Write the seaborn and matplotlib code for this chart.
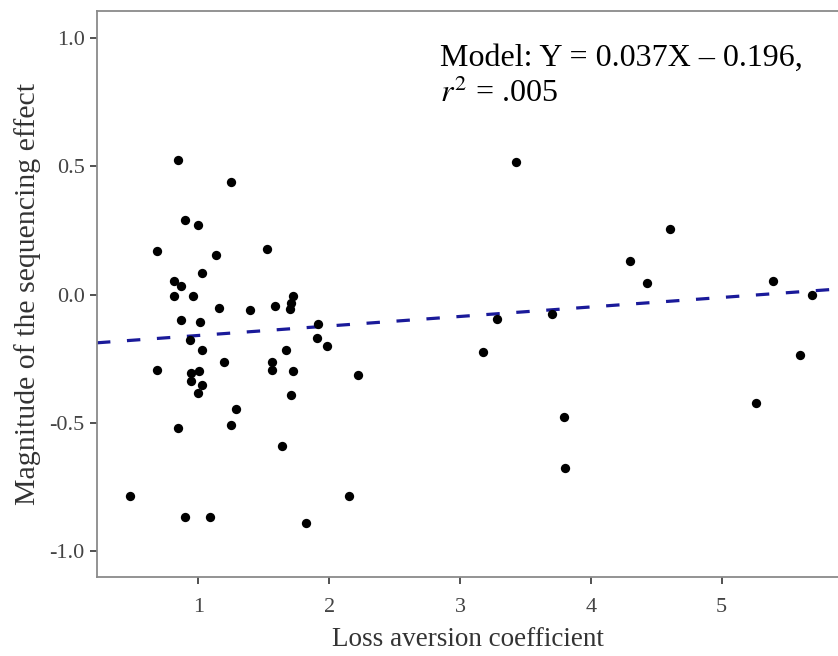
import numpy as np
import pandas as pd
import matplotlib.pyplot as plt
import seaborn as sns

# loss aversion coefficient (x) and magnitude of sequencing effect (y)
loss_aversion = [
    0.842, 1.250, 0.896, 1.000, 0.686, 1.523, 1.133, 1.026, 0.816, 0.870,
    0.816, 0.962, 1.722, 1.710, 1.700, 1.158, 1.396, 1.589, 0.870, 1.013,
    0.936, 1.918, 1.906, 1.987, 1.026, 1.669, 1.199, 1.564, 0.686, 1.564,
    1.722, 1.008, 0.944, 0.944, 1.026, 1.000, 2.220, 1.707, 1.291, 1.248,
    0.845, 1.643, 0.477, 2.153, 0.896, 1.092, 1.826,
    3.426, 4.604, 4.301, 4.433, 5.392, 5.693, 3.283, 3.701, 3.176,
    5.598, 3.793, 3.803, 5.262,
]
seq_effect = [
    0.523, 0.438, 0.292, 0.270, 0.171, 0.178, 0.154, 0.084, 0.054, 0.032,
    -0.007, -0.007, -0.004, -0.033, -0.055, -0.052, -0.061, -0.044, -0.100, -0.106,
    -0.178, -0.114, -0.169, -0.201, -0.214, -0.214, -0.261, -0.261, -0.292, -0.292,
    -0.298, -0.296, -0.305, -0.337, -0.353, -0.385, -0.315, -0.392, -0.445, -0.506,
    -0.521, -0.590, -0.783, -0.783, -0.868, -0.868, -0.890,
    0.515, 0.254, 0.131, 0.045, 0.054, 0.000, -0.093, -0.075, -0.222,
    -0.237, -0.475, -0.676, -0.421,
]

# fitted model from the figure annotation
SLOPE = 0.037
INTERCEPT = -0.196

x_ticks = [1, 2, 3, 4, 5]
y_ticks = [-1.0, -0.5, 0.0, 0.5, 1.0]

df = pd.DataFrame({'loss_aversion': loss_aversion, 'seq_effect': seq_effect})

sns.set_style('white')
plt.rcParams['font.family'] = ['Liberation Serif', 'DejaVu Serif']
plt.rcParams['mathtext.fontset'] = 'stix'

fig = plt.figure(figsize=(8.38, 6.56), dpi=100)
ax = fig.add_axes([97 / 838, 1 - 577 / 656, 1 - 97 / 838, (577 - 11) / 656])

sns.scatterplot(data=df, x='loss_aversion', y='seq_effect', ax=ax,
                color='black', s=45, edgecolor='black', linewidth=0, zorder=3)

ax.axline((0, INTERCEPT), slope=SLOPE, color='#1a1a9a', lw=2.3,
          linestyle=(0, (4.2, 5.2)), zorder=2)

ax.set_xlim(0.225, 5.89)
ax.set_ylim(-1.1, 1.105)
ax.set_xticks(x_ticks)
ax.set_xticklabels([str(t) for t in x_ticks])
ax.set_yticks(y_ticks)
ax.set_yticklabels([f'{t:.1f}' for t in y_ticks])

for side in ['left', 'bottom', 'top']:
    ax.spines[side].set_visible(True)
    ax.spines[side].set_color('#8a8a8a')
    ax.spines[side].set_linewidth(1.3)
ax.spines['right'].set_visible(False)

ax.tick_params(axis='both', which='major', bottom=True, left=True,
               direction='out', length=5, width=1.2,
               color='#333333', labelsize=16, labelcolor='#444444', pad=4)
ax.tick_params(axis='x', pad=10)

ax.set_xlabel('Loss aversion coefficient', fontsize=19.5, color='#333333', labelpad=7)
ax.set_ylabel('Magnitude of the sequencing effect', fontsize=21.5, color='#333333', labelpad=6)

fig.text(440 / 838, 1 - 66 / 656, 'Model: Y = 0.037X \u2013 0.196,', fontsize=23,
         color='black', ha='left', va='baseline')
fig.text(440 / 838, 1 - 102 / 656, r'$r^2$ = .005', fontsize=23,
         color='black', ha='left', va='baseline')

plt.savefig('out.png', dpi=100)
